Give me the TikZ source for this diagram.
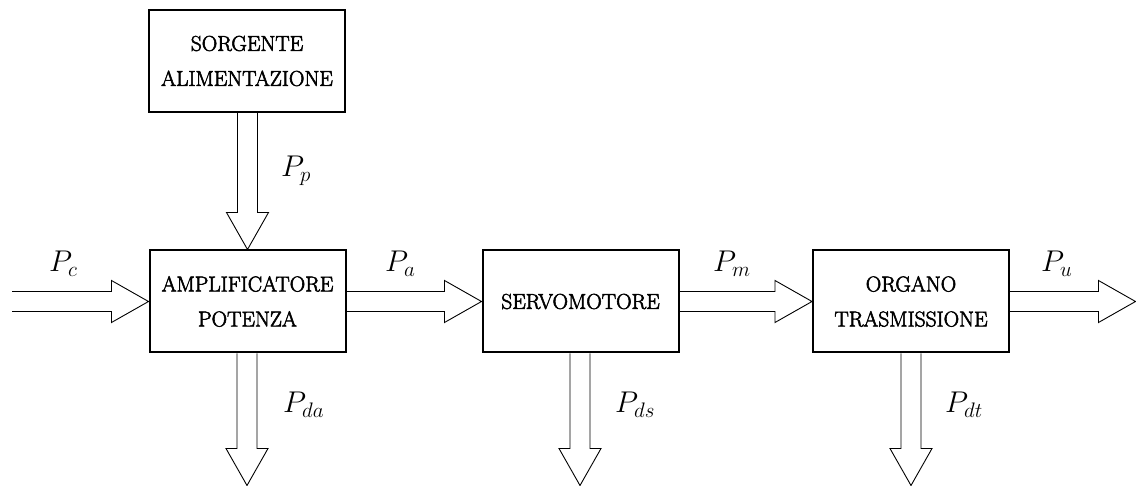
\RequirePackage{fix-cm}
\documentclass[tikz,border=0pt]{standalone}
\usetikzlibrary{calc}
% block captions: filled and lightly stroked glyphs for a heavier type colour
\newcommand{\heavyon}{\special{pdf:literal direct 2 Tr 0.55 w}}
\newcommand{\heavyoff}{\special{pdf:literal direct 0 Tr}}
\tikzset{
  block/.style={draw, line width=2pt, minimum width=196pt, minimum height=102pt,
    align=center, inner sep=0pt, font=\fontsize{21.5}{35}\selectfont,
    execute at begin node=\heavyon, execute at end node=\heavyoff},
  flow/.style={draw, line width=0.9pt, line join=miter},
  lbl/.style={anchor=base west, inner sep=0pt, font=\fontsize{30}{34}\selectfont},
}
% horizontal power-flow arrow: tail point #1, tip point #2
\newcommand{\flowH}[2]{\draw[flow] let \p1=(#1), \p2=(#2) in
  (\x1,\y2+10pt) -- (\x2-37pt,\y2+10pt) -- (\x2-37pt,\y2+21pt) -- (\x2,\y2)
  -- (\x2-37pt,\y2-21pt) -- (\x2-37pt,\y2-10pt) -- (\x1,\y2-10pt);}
% downward power-flow arrow: tail point #1, tip point #2
\newcommand{\flowV}[2]{\draw[flow] let \p1=(#1), \p2=(#2) in
  (\x2-10pt,\y1) -- (\x2-10pt,\y2+37pt) -- (\x2-21pt,\y2+37pt) -- (\x2,\y2)
  -- (\x2+21pt,\y2+37pt) -- (\x2+10pt,\y2+37pt) -- (\x2+10pt,\y1);}
\begin{document}
\begin{tikzpicture}[x=1pt,y=-1pt]
\useasboundingbox (0,0) rectangle (1136,486);

% blocks
\node[block] (src)   at (247,61)      {SORGENTE\\ALIMENTAZIONE};
\node[block] (amp)   at (247.5,301.5) {AMPLIFICATORE\\POTENZA};
\node[block] (servo) at (580.5,301.5) {SERVOMOTORE};
\node[block] (org)   at (911,301.5)   {ORGANO\\TRASMISSIONE};

% free ends of the flows
\coordinate (cin)  at (12,301.5);
\coordinate (cout) at (1135.5,301.5);
\coordinate (da)   at (247,485.5);
\coordinate (ds)   at (580,485.5);
\coordinate (dt)   at (911,485.5);

% power flows
\flowH{cin}{amp.west}
\flowH{amp.east}{servo.west}
\flowH{servo.east}{org.west}
\flowH{org.east}{cout}
\flowV{src.south}{amp.north}
\flowV{amp.south}{da}
\flowV{servo.south}{ds}
\flowV{org.south}{dt}

% labels
\node[lbl] (lc)  at (49,272)   {$P_c$};
\node[lbl] (la)  at (385,272)  {$P_a$};
\node[lbl] (lm)  at (713,272)  {$P_m$};
\node[lbl] (lu)  at (1041,272) {$P_u$};
\node[lbl] (lp)  at (281,177)  {$P_p$};
\node[lbl] (lda) at (283,413)  {$P_{da}$};
\node[lbl] (lds) at (615,413)  {$P_{ds}$};
\node[lbl] (ldt) at (945,413)  {$P_{dt}$};
\end{tikzpicture}
\end{document}
